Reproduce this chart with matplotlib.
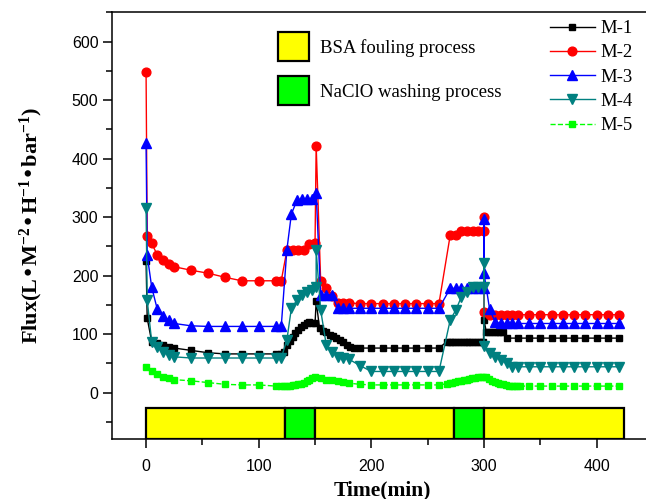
import matplotlib
matplotlib.use('Agg')
import matplotlib.pyplot as plt
from matplotlib.patches import Patch
from matplotlib.ticker import MultipleLocator

# time (min) and flux values, one pair of lists per membrane
t1 = [0, 1, 5, 10, 15, 20, 25, 40, 55, 70, 85, 100, 115, 120,
      122.5, 125, 127.5, 130, 132.5, 135, 137.5, 140, 142.5, 145, 147.5, 150,
      151, 154, 157, 160, 163, 166, 169, 172, 175, 178, 181, 185, 190,
      200, 210, 220, 230, 240, 250, 260,
      267, 269.5, 272, 274.5, 277, 279.5, 282, 284.5, 287, 289.5, 292, 294.5, 297, 299.5,
      300, 302, 304.5, 307, 309.5, 312, 314.5, 317,
      320, 330, 340, 350, 360, 370, 380, 390, 400, 410, 420]
m1 = [224, 127, 87, 84, 81, 78, 76, 72, 68, 66, 66, 66, 66, 66,
      70, 81, 88, 95, 101, 107, 112, 116, 119, 120, 119, 118,
      156, 110, 106, 103, 99, 96, 94, 90, 86, 82, 78, 76, 76,
      76, 76, 76, 76, 76, 76, 76,
      87, 87, 87, 87, 87, 87, 87, 87, 87, 87, 87, 87, 87, 87,
      124, 104, 104, 104, 104, 104, 104, 103,
      93, 93, 93, 93, 93, 93, 93, 93, 93, 93, 93]

t2 = [0, 1, 5, 10, 15, 20, 25, 40, 55, 70, 85, 100, 115, 120,
      125, 130, 135, 140, 145, 150, 151,
      155, 160, 165, 170, 175, 180, 190, 200, 210, 220, 230, 240, 250, 260,
      270, 275, 280, 285, 290, 295, 300, 300,
      300, 305, 310, 315, 320, 325, 330, 340, 350, 360, 370, 380, 390, 400, 410, 420]
m2 = [548, 267, 255, 235, 226, 220, 215, 209, 204, 197, 191, 191, 191, 191,
      243, 243, 243, 243, 254, 255, 422,
      191, 178, 165, 153, 153, 153, 152, 152, 152, 152, 152, 152, 152, 152,
      269, 270, 276, 276, 276, 276, 276, 300,
      138, 133, 133, 133, 133, 133, 133, 133, 133, 133, 133, 133, 133, 133, 133, 133]

t3 = [0, 1, 5, 10, 15, 20, 25, 40, 55, 70, 85, 100, 115, 120,
      125, 129, 134, 138, 143, 147, 151,
      155, 160, 165, 170, 175, 180, 190, 200, 210, 220, 230, 240, 250, 260,
      270, 275, 280, 285, 290, 295, 300, 300, 300,
      305, 310, 315, 320, 325, 330, 340, 350, 360, 370, 380, 390, 400, 410, 420]
m3 = [426, 235, 180, 142, 130, 124, 118, 114, 113, 113, 113, 113, 113, 113,
      244, 305, 329, 330, 330, 330, 341,
      167, 167, 167, 144, 144, 144, 144, 144, 144, 144, 144, 144, 144, 144,
      178, 178, 178, 178, 178, 178, 178, 296, 204,
      142, 120, 118, 118, 118, 118, 118, 118, 118, 118, 118, 118, 118, 118, 118]

t4 = [0, 1, 5, 10, 15, 20, 25, 40, 55, 70, 85, 100, 115, 120,
      125, 129, 134, 138, 143, 147, 151, 151,
      155, 160, 165, 170, 175, 180, 190, 200, 210, 220, 230, 240, 250, 260,
      270, 275, 280, 285, 290, 295, 300, 300,
      300, 305, 310, 315, 320, 325, 330, 340, 350, 360, 370, 380, 390, 400, 410, 420]
m4 = [315, 158, 87, 78, 70, 64, 61, 59, 59, 59, 59, 59, 59, 59,
      90, 144, 158, 167, 172, 176, 181, 243,
      141, 81, 70, 61, 59, 57, 46, 36, 36, 36, 36, 36, 36, 36,
      124, 141, 164, 172, 180, 180, 180, 221,
      79, 67, 61, 56, 50, 44, 44, 44, 44, 44, 44, 44, 44, 44, 44, 44]

t5 = [0, 5, 10, 15, 20, 25, 40, 55, 70, 85, 100, 115, 120,
      122.5, 125, 127.5, 130, 132.5, 135, 137.5, 140, 142.5, 145, 147.5, 150,
      155, 160, 165, 170, 175, 180, 190, 200, 210, 220, 230, 240, 250, 260,
      267, 269.5, 272, 274.5, 277, 279.5, 282, 284.5, 287, 289.5, 292, 294.5, 297, 299.5,
      302, 304.5, 307, 309.5, 312, 314.5, 317, 319.5, 322, 324.5, 327, 329.5, 332,
      340, 350, 360, 370, 380, 390, 400, 410, 420]
m5 = [44, 37, 31, 27, 25, 22, 20, 17, 14, 13, 13, 11, 11,
      11, 12, 12, 13, 13, 14, 15, 17, 19, 22, 25, 27,
      25, 22, 22, 19, 18, 16, 14, 13, 13, 13, 13, 13, 13, 13,
      15, 16, 17, 18, 19, 20, 21, 22, 23, 24, 25, 26, 27, 27,
      26, 23, 20, 18, 16, 15, 14, 13, 12, 12, 11, 11, 11,
      11, 11, 11, 11, 11, 11, 11, 11, 11]

# process stages shown in the bar under the curves
stage_start = [0, 123, 150, 273, 300]
stage_end = [123, 150, 273, 300, 424]
stage_kind = ['fouling', 'washing', 'fouling', 'washing', 'fouling']
stage_labels = {'fouling': 'BSA fouling process', 'washing': 'NaClO washing process'}
stage_colors = {'fouling': '#ffff00', 'washing': '#00ff00'}

plt.rcParams['mathtext.default'] = 'regular'
serif = 'Liberation Serif'
sans = 'Liberation Sans'

fig = plt.figure(figsize=(6.46, 4.99), dpi=100)
ax = fig.add_axes([0.1738, 0.1196, 0.837, 0.8558])

ax.plot(t1, m1, color='black', marker='s', ms=5, lw=1, label='M-1')
ax.plot(t2, m2, color='red', marker='o', ms=6.3, lw=1, label='M-2')
ax.plot(t3, m3, color='blue', marker='^', ms=6.5, lw=1, label='M-3')
ax.plot(t4, m4, color='#008080', marker='v', ms=6.5, lw=1, label='M-4')
ax.plot(t5, m5, color='#00ff00', marker='s', ms=5, lw=1, ls='--', label='M-5')

ymin, ymax = -80, 650
bar_top = -27
for s, e, k in zip(stage_start, stage_end, stage_kind):
    ax.bar(s, bar_top - ymin, width=e - s, bottom=ymin, align='edge',
           color=stage_colors[k], edgecolor='black', linewidth=1.6, zorder=3)

ax.set_xlim(-30, 450)
ax.set_ylim(ymin, ymax)
ax.set_xticks([0, 100, 200, 300, 400])
ax.set_yticks([0, 100, 200, 300, 400, 500, 600])
ax.xaxis.set_minor_locator(MultipleLocator(50))
ax.yaxis.set_minor_locator(MultipleLocator(50))
ax.tick_params(which='major', length=6.5, width=1.1, direction='out', labelsize=11.5)
ax.tick_params(which='minor', length=4, width=1.1, direction='out')
ax.tick_params(axis='x', which='major', pad=8)
for lab in ax.get_xticklabels() + ax.get_yticklabels():
    lab.set_fontfamily(sans)
for sp in ax.spines.values():
    sp.set_linewidth(1.1)

ax.set_xlabel('Time(min)', fontfamily=serif, fontweight='bold', fontsize=15.5, labelpad=4)
ax.set_ylabel('Flux(L\u2022M$^{-2}$\u2022H$^{-1}$\u2022bar$^{-1}$)', fontfamily=serif,
              fontweight='bold', fontsize=16, labelpad=19)

leg1 = ax.legend(loc='upper left', bbox_to_anchor=(0.809, 0.982), frameon=False,
                 prop={'family': serif, 'size': 13.5}, handlelength=2.4,
                 handletextpad=0.3, labelspacing=0.38, borderpad=0, borderaxespad=0)
ax.add_artist(leg1)

patches = [Patch(facecolor=stage_colors[k], edgecolor='black', linewidth=1.6,
                 label=stage_labels[k]) for k in ['fouling', 'washing']]
ax.legend(handles=patches, loc='upper left', bbox_to_anchor=(0.307, 0.953), frameon=False,
          prop={'family': serif, 'size': 13.5}, handlelength=1.65, handleheight=2.0,
          handletextpad=0.6, labelspacing=0.8, borderpad=0, borderaxespad=0)

plt.savefig('out.png', dpi=100)
